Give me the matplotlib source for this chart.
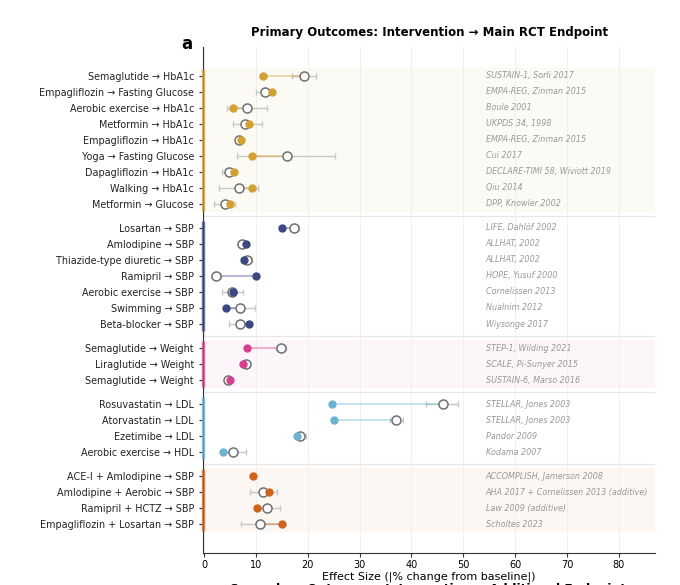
import matplotlib
matplotlib.use("Agg")
import matplotlib.pyplot as plt

# groups of rows, top to bottom
group_sizes = [9, 7, 3, 4, 4]
group_colors = ["#d4a032", "#3b4882", "#d6408c", "#6bb4d2", "#cd641e"]
group_shaded = [True, False, True, False, True]

labels = [
    "Semaglutide → HbA1c", "Empagliflozin → Fasting Glucose", "Aerobic exercise → HbA1c",
    "Metformin → HbA1c", "Empagliflozin → HbA1c", "Yoga → Fasting Glucose",
    "Dapagliflozin → HbA1c", "Walking → HbA1c", "Metformin → Glucose",
    "Losartan → SBP", "Amlodipine → SBP", "Thiazide-type diuretic → SBP",
    "Ramipril → SBP", "Aerobic exercise → SBP", "Swimming → SBP", "Beta-blocker → SBP",
    "Semaglutide → Weight", "Liraglutide → Weight", "Semaglutide → Weight",
    "Rosuvastatin → LDL", "Atorvastatin → LDL", "Ezetimibe → LDL", "Aerobic exercise → HDL",
    "ACE-I + Amlodipine → SBP", "Amlodipine + Aerobic → SBP",
    "Ramipril + HCTZ → SBP", "Empagliflozin + Losartan → SBP",
]

# filled dots (model estimate) and open dots (RCT endpoint) with its CI
predicted = [11.4, 13.1, 5.6, 8.7, 7.1, 9.2, 5.7, 9.2, 5.0,
             15.0, 8.0, 7.7, 10.1, 5.5, 4.2, 8.7,
             8.2, 7.5, 5.1,
             24.7, 25.0, 18.0, 3.7,
             9.4, 12.5, 10.2, 15.0]
rct = [19.3, 11.8, 8.3, 7.9, 6.7, 16.0, 4.8, 6.7, 4.0,
       17.4, 7.4, 8.3, 2.4, 5.4, 6.9, 7.0,
       14.9, 8.1, 4.6,
       46.0, 37.0, 18.6, 5.6,
       None, 11.4, 12.1, 10.8]
ci_low = [16.9, 10.1, 4.5, 5.5, 6.2, 6.4, 3.5, 2.8, 1.9,
          16.5, 6.5, 7.4, 1.5, 3.4, 4.0, 4.9,
          13.8, 7.2, 4.1,
          42.9, 35.8, 17.6, 3.2,
          None, 8.9, 9.8, 7.1]
ci_high = [21.6, 13.5, 12.1, 11.1, 7.2, 25.2, 6.0, 10.5, 6.0,
           18.3, 8.5, 9.2, 3.3, 7.6, 9.9, 8.8,
           15.9, 8.6, 5.3,
           49.0, 38.4, 19.7, 8.0,
           None, 14.1, 14.6, 14.5]

citations = [
    "SUSTAIN-1, Sorli 2017", "EMPA-REG, Zinman 2015", "Boule 2001", "UKPDS 34, 1998",
    "EMPA-REG, Zinman 2015", "Cui 2017", "DECLARE-TIMI 58, Wiviott 2019", "Qiu 2014",
    "DPP, Knowler 2002",
    "LIFE, Dahlöf 2002", "ALLHAT, 2002", "ALLHAT, 2002", "HOPE, Yusuf 2000",
    "Cornelissen 2013", "Nualnim 2012", "Wiysonge 2017",
    "STEP-1, Wilding 2021", "SCALE, Pi-Sunyer 2015", "SUSTAIN-6, Marso 2016",
    "STELLAR, Jones 2003", "STELLAR, Jones 2003", "Pandor 2009", "Kodama 2007",
    "ACCOMPLISH, Jamerson 2008", "AHA 2017 + Cornelissen 2013 (additive)",
    "Law 2009 (additive)", "Scholtes 2023",
]

gap = 0.5

# row positions with a small gap between groups
ypos, row_color, group_ranges = [], [], []
y = 0.0
for g, n in enumerate(group_sizes):
    start = y
    for k in range(n):
        ypos.append(y)
        row_color.append(group_colors[g])
        y += 1
    group_ranges.append((start, y - 1))
    y += gap

fig = plt.figure(figsize=(6.8, 5.85), dpi=100)
ax = fig.add_axes([0.2985, 0.0547, 0.665, 0.865])

for g, (y0, y1) in enumerate(group_ranges):
    if group_shaded[g]:
        ax.axhspan(y0 - 0.5, y1 + 0.5, color=group_colors[g], alpha=0.05, lw=0, zorder=0)
    ax.plot([-0.1, -0.1], [y0 - 0.45, y1 + 0.45], color=group_colors[g],
            lw=2.5, alpha=0.7, solid_capstyle="butt", zorder=5, clip_on=False)
    if g < len(group_ranges) - 1:
        ax.axhline(y1 + 0.5 + gap / 2, color="#e6e6e6", lw=0.8, zorder=0.5)

for i, yy in enumerate(ypos):
    c = row_color[i]
    if rct[i] is not None:
        ax.errorbar(rct[i], yy, xerr=[[rct[i] - ci_low[i]], [ci_high[i] - rct[i]]],
                    fmt="none", ecolor="#c8c8c8", elinewidth=1, capsize=2, zorder=2)
        ax.plot([predicted[i], rct[i]], [yy, yy], color=c, lw=1.2, alpha=0.45, zorder=3)
        ax.plot(rct[i], yy, "o", ms=6.5, mfc="white", mec="#707070", mew=1.1, zorder=4)
    ax.plot(predicted[i], yy, "o", ms=5, color=c, zorder=5)
    ax.text(54.3, yy, citations[i], fontsize=5.8, style="italic", color="#999999",
            va="center", ha="left")

ax.set_yticks(ypos)
ax.set_yticklabels(labels, fontsize=6.9, color="#222222")
ax.set_ylim(29.8, -1.8)
ax.set_xlim(-0.2, 87)
ax.set_xticks(range(0, 81, 10))
ax.tick_params(axis="x", labelsize=7, length=3, pad=2, color="#333333")
ax.tick_params(axis="y", length=3, color="#333333")
ax.set_xlabel("Effect Size (|% change from baseline|)", fontsize=8, labelpad=1)
ax.grid(axis="x", color="#eeeeee", lw=0.6, zorder=0)
ax.set_axisbelow(True)
for side in ["top", "right"]:
    ax.spines[side].set_visible(False)
ax.spines["left"].set_color("#333333")
ax.spines["bottom"].set_color("#333333")

ax.set_title("Primary Outcomes: Intervention → Main RCT Endpoint",
             fontsize=8.5, fontweight="bold", pad=8)
fig.text(0.275, 0.925, "a", fontsize=12, fontweight="bold", ha="center", va="center")
fig.text(0.635, -0.007, "Secondary Outcomes: Intervention → Additional Endpoints",
         fontsize=8.8, fontweight="bold", ha="center", va="center")

fig.savefig("out.png", dpi=100)
